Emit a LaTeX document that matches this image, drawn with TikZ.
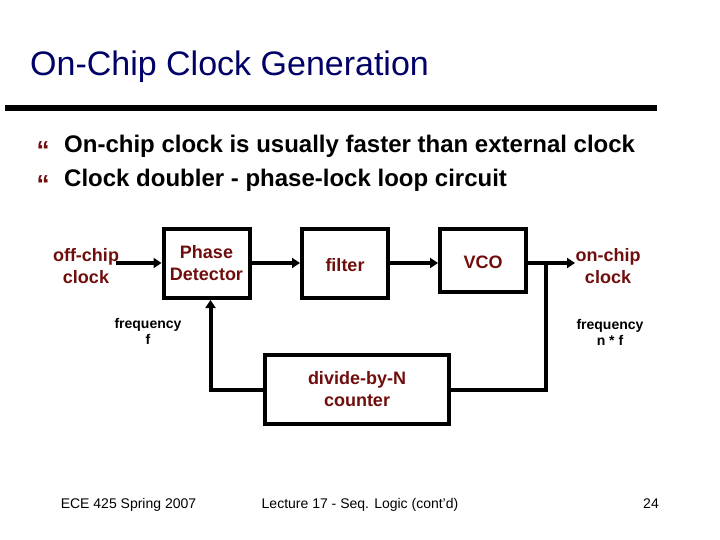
\documentclass[tikz,border=0pt]{standalone}
\usepackage{fontspec}
\setmainfont{Liberation Sans}
\usepackage{tikz}
\usetikzlibrary{arrows.meta,positioning,calc}
\definecolor{titleblue}{RGB}{0,0,102}
\definecolor{labelred}{RGB}{112,14,14}

\begin{document}
\begin{tikzpicture}[x=1bp,y=-1bp,
  blk/.style={draw,line width=4bp,inner sep=0pt,minimum width=86bp,minimum height=69bp,
    align=center,font=\fontsize{18bp}{22bp}\selectfont\bfseries,text=labelred},
  sig/.style={align=center,font=\fontsize{18bp}{22bp}\selectfont\bfseries,text=labelred},
  freq/.style={align=center,font=\fontsize{14bp}{16bp}\selectfont\bfseries},
  foot/.style={anchor=base,font=\fontsize{14bp}{16bp}\selectfont},
  dot/.style={anchor=base,inner sep=0pt,font=\fontsize{26bp}{28bp}\selectfont\bfseries,text=labelred},
  bul/.style={anchor=base west,font=\fontsize{24bp}{28bp}\selectfont\bfseries},
  wire/.style={line width=4bp},
  arr/.style={line width=4bp,-{Triangle[length=8bp,width=10bp]}}]
\useasboundingbox (0,0) rectangle (720,540);
% title and rule
\node[anchor=base west,inner sep=0pt,font=\fontsize{34bp}{38bp}\selectfont,text=titleblue] (title) at (30,76) {On-Chip Clock Generation};
\draw[line width=6bp] (5,108) -- (657,108);
% bullets
\node[dot] (b1) at (43,160) {“};
\node[dot] (b2) at (43,194) {“};
\node[bul,inner sep=0pt] (t1) at (64,153) {On-chip clock is usually faster than external clock};
\node[bul,inner sep=0pt] (t2) at (64,187) {Clock doubler - phase-lock loop circuit};
% blocks
\node[blk] (pd) at (206.5,263.5) {Phase\\Detector};
\node[blk,text height=16bp] (flt) at (345,263.5) {filter};
\node[blk,text height=16bp,minimum height=63bp] (vco) at (483,260.5) {VCO};
\node[blk,minimum width=184bp] (div) at (357,389.5) {divide-by-N\\counter};
% signal labels
\node[sig] (offclk) at (86,266) {off-chip\\clock};
\node[sig] (onclk) at (608,266) {on-chip\\clock};
\node[freq] (fin) at (148,331) {frequency\\f};
\node[freq] (fout) at (610,332) {frequency\\n * f};
\coordinate (src) at (116,263);
\coordinate (dst) at (575,263);
\coordinate (tap) at (546,263);
% connectors
\draw[arr] (src) -- (pd.west |- src);
\draw[arr] (pd.east |- src) -- (flt.west |- src);
\draw[arr] (flt.east |- src) -- (vco.west |- src);
\draw[arr] (vco.east |- src) -- (dst);
\draw[wire] (tap) |- (div.east);
\draw[arr] (div.west) -| ([xshift=4bp]pd.south);
% footer
\node[foot] (f1) at (128.5,508) {ECE 425 Spring 2007};
\node[foot] (f2) at (360,508) {Lecture 17 - Seq. Logic (cont'd)};
\node[foot] (f3) at (651,508) {24};
\end{tikzpicture}
\end{document}
